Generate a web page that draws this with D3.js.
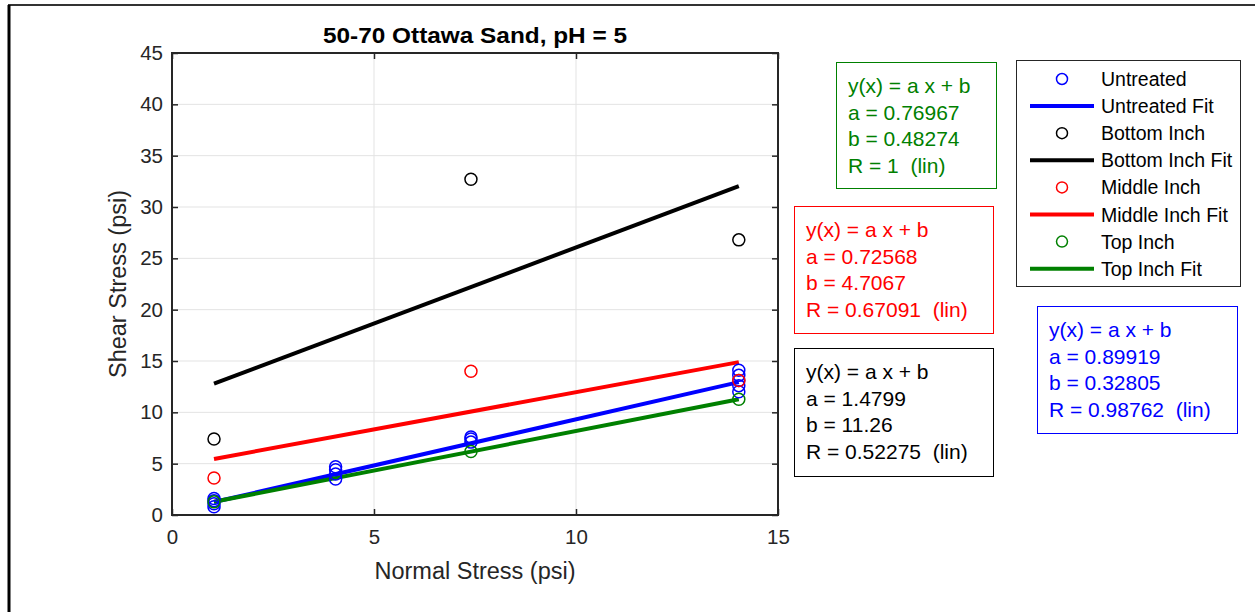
<!DOCTYPE html>
<html lang="en">
<head>
  <meta charset="UTF-8">
  <title>50-70 Ottawa Sand, pH = 5</title>
  <script src="https://d3js.org/d3.v7.min.js"></script>
  <style>
    body { margin: 0; background: #fff; font-family: Arial, 'Liberation Sans', sans-serif; }
    svg text { font-family: Arial, 'Liberation Sans', sans-serif; }
  </style>
</head>
<body>
  <svg width="1255" height="612"></svg>
  <script>
    // normal stress levels (psi)
    const xLevels = [1.04, 4.05, 7.4, 14.03];

    // measured points per series [x, y]
    const untreated = [
      [1.04, 0.8], [1.04, 1.1], [1.04, 1.4], [1.04, 1.6],
      [4.05, 3.5], [4.05, 4.0], [4.05, 4.4], [4.05, 4.7],
      [7.4, 7.1], [7.4, 7.4], [7.4, 7.6],
      [14.03, 12.0], [14.03, 12.6], [14.03, 13.1], [14.03, 13.6], [14.03, 14.1]
    ];
    const bottomInch = [[1.04, 7.4], [7.4, 32.7], [14.03, 26.8]];
    const middleInch = [[1.04, 3.6], [7.4, 14.0], [14.03, 13.1]];
    const topInch = [[1.04, 1.28], [7.4, 6.18], [14.03, 11.28]];

    // fit coefficients
    const fitA = { untreated: 0.89919, bottom: 1.4799, middle: 0.72568, top: 0.76967 };
    const fitB = { untreated: 0.32805, bottom: 11.26, middle: 4.7067, top: 0.48274 };
    const fitR = { untreated: "0.98762", bottom: "0.52275", middle: "0.67091", top: "1" };
    const fitAText = { untreated: "0.89919", bottom: "1.4799", middle: "0.72568", top: "0.76967" };
    const fitBText = { untreated: "0.32805", bottom: "11.26", middle: "4.7067", top: "0.48274" };

    const xTicks = [0, 5, 10, 15];
    const yTicks = [0, 5, 10, 15, 20, 25, 30, 35, 40, 45];

    const series = [
      { key: "untreated", name: "Untreated", color: "#0000ff", pts: untreated },
      { key: "bottom", name: "Bottom Inch", color: "#000000", pts: bottomInch },
      { key: "middle", name: "Middle Inch", color: "#ff0000", pts: middleInch },
      { key: "top", name: "Top Inch", color: "#008000", pts: topInch }
    ];

    const svg = d3.select("svg");

    // figure frame edges
    svg.append("line").attr("x1", 8).attr("x2", 1255).attr("y1", 5).attr("y2", 5)
      .attr("stroke", "#333").attr("stroke-width", 2);
    svg.append("line").attr("x1", 9).attr("x2", 9).attr("y1", 5).attr("y2", 612)
      .attr("stroke", "#000").attr("stroke-width", 3);

    const pLeft = 172, pRight = 778, pTop = 53, pBottom = 515;
    const x = d3.scaleLinear().domain([0, 15]).range([pLeft, pRight]);
    const y = d3.scaleLinear().domain([0, 45]).range([pBottom, pTop]);

    // grid
    const grid = svg.append("g");
    grid.selectAll(".gx").data(xTicks.slice(1, -1)).join("line")
      .attr("x1", d => x(d)).attr("x2", d => x(d)).attr("y1", pTop).attr("y2", pBottom)
      .attr("stroke", "#e3e3e3").attr("stroke-width", 1);
    grid.selectAll(".gy").data(yTicks.slice(1, -1)).join("line")
      .attr("x1", pLeft).attr("x2", pRight).attr("y1", d => y(d)).attr("y2", d => y(d))
      .attr("stroke", "#e3e3e3").attr("stroke-width", 1);

    // axes
    const axStyle = g => {
      g.select(".domain").remove();
      g.selectAll(".tick line").attr("stroke", "#262626").attr("stroke-width", 1.5);
      g.selectAll(".tick text").attr("fill", "#262626").style("font-size", "20.5px");
    };
    svg.append("g").attr("transform", `translate(0,${pBottom})`)
      .call(d3.axisBottom(x).tickValues(xTicks).tickSize(-6).tickPadding(14))
      .call(axStyle);
    svg.append("g").attr("transform", `translate(0,${pTop})`)
      .call(d3.axisTop(x).tickValues(xTicks).tickSize(-6).tickFormat(""))
      .call(axStyle);
    svg.append("g").attr("transform", `translate(${pLeft},0)`)
      .call(d3.axisLeft(y).tickValues(yTicks).tickSize(-6).tickPadding(9))
      .call(axStyle);
    svg.append("g").attr("transform", `translate(${pRight},0)`)
      .call(d3.axisRight(y).tickValues(yTicks).tickSize(-6).tickFormat(""))
      .call(axStyle);

    // fits and points
    const xMin = d3.min(xLevels), xMax = d3.max(xLevels);
    const drawOrder = ["bottom", "middle", "untreated", "top"];
    drawOrder.forEach(k => {
      const s = series.find(d => d.key === k);
      svg.append("line")
        .attr("x1", x(xMin)).attr("y1", y(fitA[k] * xMin + fitB[k]))
        .attr("x2", x(xMax)).attr("y2", y(fitA[k] * xMax + fitB[k]))
        .attr("stroke", s.color).attr("stroke-width", 4);
    });
    series.forEach(s => {
      svg.append("g").selectAll("circle").data(s.pts).join("circle")
        .attr("cx", d => x(d[0])).attr("cy", d => y(d[1])).attr("r", 6)
        .attr("fill", "none").attr("stroke", s.color).attr("stroke-width", 1.5);
    });

    // box
    svg.append("rect").attr("x", pLeft).attr("y", pTop)
      .attr("width", pRight - pLeft).attr("height", pBottom - pTop)
      .attr("fill", "none").attr("stroke", "#262626").attr("stroke-width", 2);

    // titles
    svg.append("text").attr("x", (pLeft + pRight) / 2).attr("y", 43)
      .attr("text-anchor", "middle").style("font-size", "22px").style("font-weight", "bold")
      .attr("textLength", 304).attr("lengthAdjust", "spacingAndGlyphs")
      .text("50-70 Ottawa Sand, pH = 5");
    svg.append("text").attr("x", (pLeft + pRight) / 2).attr("y", 579)
      .attr("text-anchor", "middle").attr("fill", "#262626").style("font-size", "23.5px")
      .text("Normal Stress (psi)");
    svg.append("text").attr("transform", `translate(126,${(pTop + pBottom) / 2}) rotate(-90)`)
      .attr("text-anchor", "middle").attr("fill", "#262626").style("font-size", "23.5px")
      .text("Shear Stress (psi)");

    // fit annotation boxes
    const boxes = [
      { key: "top", x: 836, y: 62, w: 160, h: 126 },
      { key: "middle", x: 794, y: 206, w: 199, h: 127 },
      { key: "bottom", x: 794, y: 348, w: 199, h: 128 },
      { key: "untreated", x: 1037, y: 306, w: 200, h: 127 }
    ];
    boxes.forEach(b => {
      const s = series.find(d => d.key === b.key);
      svg.append("rect").attr("x", b.x + 0.5).attr("y", b.y + 0.5).attr("width", b.w).attr("height", b.h)
        .attr("fill", "#fff").attr("stroke", s.color).attr("stroke-width", 1);
      const lines = ["y(x) = a x + b", `a = ${fitAText[b.key]}`, `b = ${fitBText[b.key]}`,
        `R = ${fitR[b.key]}  (lin)`];
      svg.append("g").selectAll("text").data(lines).join("text")
        .attr("x", b.x + 12).attr("y", (d, i) => b.y + 31 + i * 26.7)
        .attr("fill", s.color).style("font-size", "21px").style("white-space", "pre")
        .text(d => d);
    });

    // legend
    const lg = svg.append("g");
    lg.append("rect").attr("x", 1016.5).attr("y", 60.5).attr("width", 224).attr("height", 226)
      .attr("fill", "#fff").attr("stroke", "#262626").attr("stroke-width", 1);
    const entries = [];
    series.forEach(s => {
      entries.push({ type: "pt", label: s.name, color: s.color });
      entries.push({ type: "ln", label: s.name + " Fit", color: s.color });
    });
    entries.forEach((e, i) => {
      const cy = 79 + i * 27.1;
      if (e.type === "pt") {
        lg.append("circle").attr("cx", 1062).attr("cy", cy).attr("r", 5.5)
          .attr("fill", "none").attr("stroke", e.color).attr("stroke-width", 1.5);
      } else {
        lg.append("line").attr("x1", 1030).attr("x2", 1094).attr("y1", cy).attr("y2", cy)
          .attr("stroke", e.color).attr("stroke-width", 4);
      }
      lg.append("text").attr("x", 1101).attr("y", cy + 7).style("font-size", "19.5px")
        .attr("fill", "#000").text(e.label);
    });
  </script>
</body>
</html>
